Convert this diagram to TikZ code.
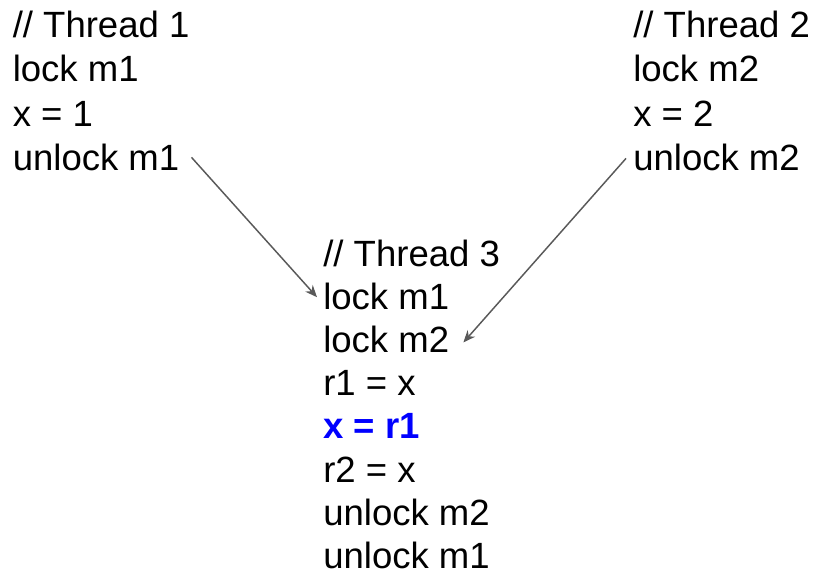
\documentclass[tikz,border=0pt]{standalone}
\usepackage{fontspec}
\setmainfont{Liberation Sans}
\usetikzlibrary{arrows.meta}
\definecolor{arrowgray}{RGB}{89,89,89}
\begin{document}
\begin{tikzpicture}[x=0.75pt,y=-0.75pt,
  txt/.style={anchor=base west, inner sep=0pt, font=\fontsize{27.4}{33}\selectfont},
  hl/.style={txt, text=blue, font=\fontsize{27.4}{33}\selectfont\bfseries},
  conn/.style={draw=arrowgray, line width=1.1pt, -{Stealth[length=9pt,width=7.5pt]}}]
\useasboundingbox (0,0) rectangle (817,576);
% Thread 1
\node[txt] (t1a) at (12.5,37.5) {// Thread 1};
\node[txt] (t1b) at (12.5,81.8) {lock m1};
\node[txt] (t1c) at (12.5,126.1) {x = 1};
\node[txt] (t1d) at (12.5,170.4) {unlock m1};
% Thread 2
\node[txt] (t2a) at (633,37.5) {// Thread 2};
\node[txt] (t2b) at (633,81.8) {lock m2};
\node[txt] (t2c) at (633,126.1) {x = 2};
\node[txt] (t2d) at (633,170.4) {unlock m2};
% Thread 3
\node[txt] (t3a) at (323,266) {// Thread 3};
\node[txt] (t3b) at (323,309.2) {lock m1};
\node[txt] (t3c) at (323,352.4) {lock m2};
\node[txt] (t3d) at (323,395.6) {r1 = x};
\node[hl]  (t3e) at (323,438.8) {x = r1};
\node[txt] (t3f) at (323,482) {r2 = x};
\node[txt] (t3g) at (323,525.2) {unlock m2};
\node[txt] (t3h) at (323,568.4) {unlock m1};
% connectors
\draw[conn] ([shift={(12,-13)}]t1d.base east) -- ([shift={(-6,-12)}]t3b.base west);
\draw[conn] ([shift={(-7,-12)}]t2d.base west) -- ([shift={(14,-10)}]t3c.base east);
\end{tikzpicture}
\end{document}
